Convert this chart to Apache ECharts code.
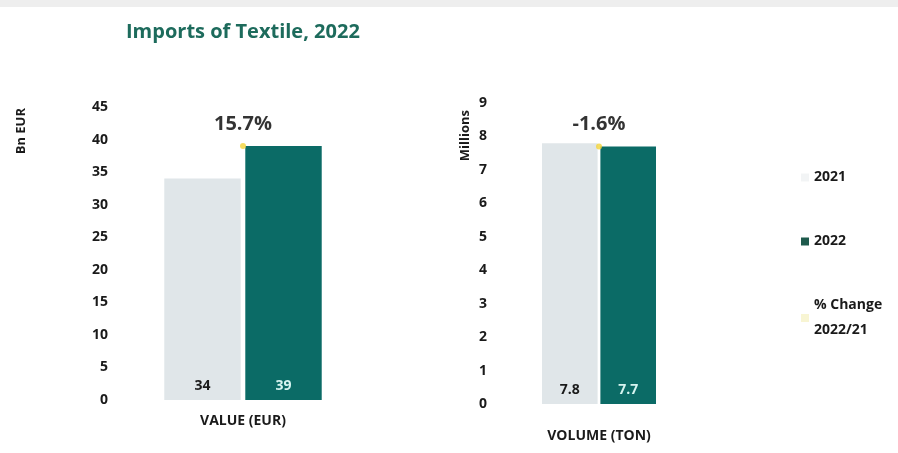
<!DOCTYPE html>
<html>
<head>
<meta charset="utf-8">
<script src="https://cdn.jsdelivr.net/npm/echarts@6/dist/echarts.min.js"></script>
<style>
html,body{margin:0;padding:0;background:#fff;}
#c{width:898px;height:453px;}
</style>
</head>
<body>
<div id="c"></div>
<script>
const titleText = 'Imports of Textile, 2022';
const years = ['2021', '2022'];
const pctName = '% Change\n2022/21';
const valueCategory = ['VALUE (EUR)'];
const valueData2021 = [34];
const valueData2022 = [39];
const valuePct = [15.7];
const volumeCategory = ['VOLUME (TON)'];
const volumeData2021 = [7.8];
const volumeData2022 = [7.7];
const volumePct = [-1.6];
const valueAxisName = 'Bn EUR';
const volumeAxisName = 'Millions';

const FONT = '"Open Sans", "Noto Sans", sans-serif';
const C2021 = '#e0e6e9';
const C2022 = '#0b6b66';
const CPCT = '#f2d33a';

const chart = echarts.init(document.getElementById('c'), null, {renderer: 'canvas'});

function yAxis(gridIndex, max, interval) {
  return {
    type: 'value', gridIndex, min: 0, max, interval,
    axisLine: {show: false}, axisTick: {show: false}, splitLine: {show: false},
    axisLabel: {color: '#1a1a1a', fontFamily: FONT, fontWeight: 'bold', fontSize: 14, margin: 12}
  };
}
function xAxis(gridIndex, data, margin) {
  return {
    type: 'category', gridIndex, data,
    axisLine: {show: false}, axisTick: {show: false},
    axisLabel: {color: '#1a1a1a', fontFamily: FONT, fontWeight: 'bold', fontSize: 14, margin}
  };
}
function barSeries(name, idx, data, color, labelColor, catGap, barGap) {
  return {
    type: 'bar', name, xAxisIndex: idx, yAxisIndex: idx, data,
    barCategoryGap: catGap, barGap,
    itemStyle: {color},
    label: {show: true, position: 'insideBottom', distance: 7, color: labelColor,
      fontFamily: FONT, fontWeight: 'bold', fontSize: 14},
    z: 2
  };
}
function pctSeries(idx, a, b, pct) {
  return {
    type: 'scatter', name: pctName, xAxisIndex: idx, yAxisIndex: idx,
    data: pct.map((p, i) => ({value: [i, b[i]], pct: p})),
    symbolSize: 6, itemStyle: {color: CPCT},
    label: {show: true, position: 'top', distance: 9, color: '#000',
      fontFamily: FONT, fontWeight: 'bold', fontSize: 20,
      formatter: p => p.data.pct.toFixed(1) + '%'},
    z: 5
  };
}

const option = {
  backgroundColor: '#ffffff',
  animation: false,
  title: {
    text: titleText, left: 121, top: 17,
    textStyle: {color: '#1d6b5c', fontFamily: FONT, fontWeight: 'bold', fontSize: 20}
  },
  legend: {
    orient: 'vertical', left: 796, top: 160, itemGap: 39,
    itemWidth: 8, itemHeight: 8,
    textStyle: {color: '#1a1a1a', fontFamily: FONT, fontWeight: 'bold', fontSize: 14, lineHeight: 25},
    data: [
      {name: '2021', icon: 'rect', itemStyle: {color: '#f2f4f5'}},
      {name: '2022', icon: 'rect', itemStyle: {color: '#1e5a4c'}},
      {name: pctName, icon: 'rect', itemStyle: {color: '#f6f3c8'}}
    ]
  },
  grid: [
    {left: 120, width: 246, top: 107, height: 293},
    {left: 499, width: 200, top: 103, height: 301}
  ],
  xAxis: [xAxis(0, valueCategory, 14), xAxis(1, volumeCategory, 25)],
  yAxis: [yAxis(0, 45, 5), yAxis(1, 9, 1)],
  series: [
    barSeries('2021', 0, valueData2021, C2021, '#1a1a1a', '36%', '6%'),
    barSeries('2022', 0, valueData2022, C2022, '#d6f4f0', '36%', '6%'),
    pctSeries(0, valueData2021, valueData2022, valuePct),
    barSeries('2021', 1, volumeData2021, C2021, '#1a1a1a', '43%', '5%'),
    barSeries('2022', 1, volumeData2022, C2022, '#d6f4f0', '43%', '5%'),
    pctSeries(1, volumeData2021, volumeData2022, volumePct)
  ],
  graphic: [
    {type: 'rect', left: 0, top: 0, shape: {width: 898, height: 7}, style: {fill: '#eeeeee'}, silent: true},
    {type: 'text', left: 15, top: 108, rotation: Math.PI / 2,
      style: {text: valueAxisName, fill: '#1a1a1a', font: 'bold 13px ' + FONT}},
    {type: 'text', left: 459, top: 110, rotation: Math.PI / 2,
      style: {text: volumeAxisName, fill: '#1a1a1a', font: 'bold 13px ' + FONT}}
  ]
};
chart.setOption(option);
</script>
</body>
</html>
